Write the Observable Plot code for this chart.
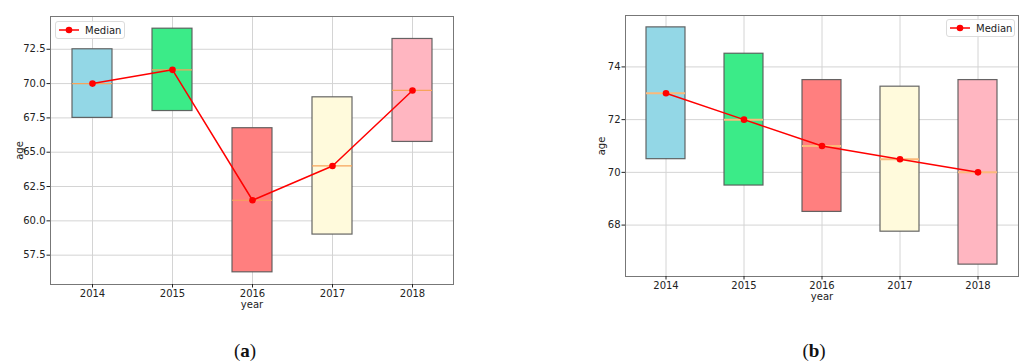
<!DOCTYPE html>
<html>
<head>
<meta charset="utf-8">
<script src="https://cdn.jsdelivr.net/npm/d3@7"></script>
<script src="https://cdn.jsdelivr.net/npm/@observablehq/plot@0.6"></script>
<style>
  html, body { margin: 0; padding: 0; background: #fff; }
  #fig { position: relative; width: 1020px; height: 363px; overflow: hidden; font-family: "DejaVu Sans", sans-serif; }
  .panel { position: absolute; top: 0; }
  .legend { position: absolute; height: 18px; border: 1px solid #dcdcdc; border-radius: 3px; background: rgba(255,255,255,0.85);
            display: flex; align-items: center; font: 10px "DejaVu Sans", sans-serif; color: #222; box-sizing: border-box; }
  .legend svg { margin: 0 5px 0 2px; }
  .cap { position: absolute; top: 340px; font: 19px "Liberation Serif", "DejaVu Serif", serif; color: #111; transform: translateX(-50%); }
  .cap b { font-weight: bold; }
</style>
</head>
<body>
<div id="fig"></div>
<script>
// Years on the x axis
const years = ["2014", "2015", "2016", "2017", "2018"];
const boxColors = ["#93d7e6", "#3beb88", "#ff7f7f", "#fffadc", "#ffb6c1"];

// Panel (a): quartiles and medians of age
const q1A = [67.5, 68, 56.25, 59, 65.75];
const q3A = [72.5, 74, 66.75, 69, 73.25];
const medA = [70, 71, 61.5, 64, 69.5];
const ticksA = [57.5, 60, 62.5, 65, 67.5, 70, 72.5];

// Panel (b): quartiles and medians of age
const q1B = [70.5, 69.5, 68.5, 67.75, 66.5];
const q3B = [75.5, 74.5, 73.5, 73.25, 73.5];
const medB = [73, 72, 71, 70.5, 70];
const ticksB = [68, 70, 72, 74];

function rows(q1, q3, med) {
  return years.map((year, i) => ({year, q1: q1[i], q3: q3[i], median: med[i], color: boxColors[i]}));
}

// y extent padded by 5% on each side
function paddedDomain(q1, q3) {
  const lo = d3.min(q1), hi = d3.max(q3), m = (hi - lo) * 0.05;
  return [lo - m, hi + m];
}

function boxPanel({data, domain, ticks, tickFormat, width, height, margins, yLabelOffset, medianStroke, medianWidth}) {
  return Plot.plot({
    width, height,
    marginLeft: margins[0], marginRight: margins[1], marginTop: margins[2], marginBottom: margins[3],
    style: {fontFamily: "DejaVu Sans, sans-serif", fontSize: "10px", color: "#222", background: "transparent"},
    x: {type: "band", domain: years, paddingInner: 0.5, paddingOuter: 0.25, align: 0.5},
    y: {domain},
    color: {type: "identity"},
    marks: [
      Plot.gridX({stroke: "#d4d4d4", strokeOpacity: 1, strokeWidth: 1}),
      Plot.gridY(ticks, {stroke: "#d4d4d4", strokeOpacity: 1, strokeWidth: 1}),
      Plot.barY(data, {x: "year", y1: "q1", y2: "q3", fill: "color", stroke: "#555", strokeWidth: 1.2, strokeOpacity: 0.9}),
      Plot.tickY(data, {x: "year", y: "median", stroke: medianStroke, strokeWidth: medianWidth}),
      Plot.line(data, {x: "year", y: "median", stroke: "#ff0000", strokeWidth: 1.5}),
      Plot.dot(data, {x: "year", y: "median", fill: "#ff0000", r: 3.3}),
      Plot.frame({stroke: "#777", strokeWidth: 1}),
      Plot.axisX({tickSize: 3.5, tickPadding: 2, label: "year", labelAnchor: "center", labelOffset: 23.5, labelArrow: "none"}),
      Plot.axisY(ticks, {tickSize: 3.5, tickPadding: 1.5, tickFormat, label: "age", labelAnchor: "center", labelOffset: yLabelOffset, labelArrow: "none"})
    ]
  });
}

function legend(left, top, width) {
  const el = document.createElement("div");
  el.className = "legend";
  el.style.left = left + "px";
  el.style.top = top + "px";
  el.style.width = width + "px";
  el.innerHTML = '<svg width="22" height="8"><line x1="1" x2="21" y1="4" y2="4" stroke="#ff0000" stroke-width="1.5"/><circle cx="11" cy="4" r="3.3" fill="#ff0000"/></svg><span>Median</span>';
  return el;
}

const fig = document.getElementById("fig");

const panelA = boxPanel({
  data: rows(q1A, q3A, medA), domain: paddedDomain(q1A, q3A), ticks: ticksA, tickFormat: d => d.toFixed(1),
  width: 470, height: 320, margins: [50, 17, 16, 36], yLabelOffset: 35,
  medianStroke: "#f7a35a", medianWidth: 1.2
});
panelA.classList.add("panel");
panelA.style.left = "0px";
fig.appendChild(panelA);

const panelB = boxPanel({
  data: rows(q1B, q3B, medB), domain: paddedDomain(q1B, q3B), ticks: ticksB, tickFormat: d => String(d),
  width: 460, height: 320, margins: [65, 2, 15, 44], yLabelOffset: 28,
  medianStroke: "#fbb97a", medianWidth: 2
});
panelB.classList.add("panel");
panelB.style.left = "560px";
fig.appendChild(panelB);

fig.appendChild(legend(55, 21, 70));
fig.appendChild(legend(946, 19, 69));

const capA = document.createElement("div");
capA.className = "cap"; capA.style.left = "245px"; capA.innerHTML = "(<b>a</b>)";
fig.appendChild(capA);
const capB = document.createElement("div");
capB.className = "cap"; capB.style.left = "814px"; capB.innerHTML = "(<b>b</b>)";
fig.appendChild(capB);
</script>
</body>
</html>
